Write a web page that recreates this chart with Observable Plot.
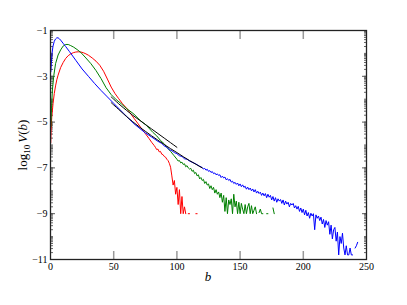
<!DOCTYPE html>
<html>
<head>
<meta charset="utf-8">
<script src="https://cdn.jsdelivr.net/npm/d3@7"></script>
<script src="https://cdn.jsdelivr.net/npm/@observablehq/plot@0.6"></script>
<style>
  html, body { margin: 0; padding: 0; background: white; }
  #chart svg { display: block; }
</style>
</head>
<body>
<div id="chart"></div>
<script>
// ---- data ----
const xTicks = [0, 50, 100, 150, 200, 250];
const xInnerTicks = [50, 100, 150, 200];
const yTicks = [-1, -3, -5, -7, -9, -11];

const redSmooth = [[0.2,-5.9],[0.5,-5.3],[1,-4.8],[2,-4.2],[3,-3.75],[4,-3.42],[5,-3.15],[6,-2.95],[8,-2.62],[10,-2.4],[12,-2.22],[14,-2.1],[16,-2.02],[18,-1.97],[20,-1.94],[22,-1.93],[24,-1.94],[26,-1.97],[28,-2.02],[30,-2.08],[33,-2.2],[36,-2.34],[39,-2.52],[42,-2.78],[45,-3.12],[48,-3.47],[51,-3.75],[54,-3.98],[57,-4.2],[60,-4.38],[63,-4.6],[66,-4.83],[69,-5.05],[72,-5.28],[75,-5.5],[78,-5.72],[80,-5.88],[82,-6.02],[83,-6.1],[84,-6.2],[85,-6.18],[86,-6.3],[87,-6.28],[88,-6.4],[89,-6.42],[90,-6.5],[91,-6.53],[92,-6.62],[93,-6.68],[94,-6.8]];
const redTailStart = 95;
const redTail = [-6.97,-7.35,-7.75,-7.55,-8.15,-7.85,-8.6,-7.95,-9.0,-8.25,-9.0,-8.7,-9.0,null,-9.0,-9.0,null,null,null,null,-9.0,-9.0];

const greenSmooth = [[0.3,-5.2],[0.8,-4.4],[1.5,-3.6],[2.6,-2.97],[4,-2.45],[6,-2.07],[8,-1.85],[10,-1.68],[12,-1.61],[14,-1.61],[16,-1.66],[18.4,-1.73],[21,-1.83],[24,-1.96],[28,-2.2],[32,-2.45],[36,-2.75],[40,-3.1],[44,-3.5],[48,-3.8],[52,-4.02],[56,-4.2],[60,-4.4],[66,-4.65],[71,-4.93],[76,-5.15],[81,-5.45],[84,-5.6],[87,-5.8],[90,-5.95],[92,-6.1],[95,-6.28],[97.5,-6.45]];
const greenTailStart = 100;
const greenTail = [-6.62,-6.7,-6.68,-6.78,-6.75,-6.85,-6.82,-6.95,-6.9,-7.0,-7.05,-7.02,-7.15,-7.1,-7.25,-7.2,-7.35,-7.3,-7.48,-7.42,-7.55,-7.5,-7.68,-7.6,-7.75,-7.7,-7.9,-7.78,-7.95,-7.85,-8.1,-7.95,-8.15,-8.05,-8.3,-8.1,-8.5,-8.2,-8.9,-8.3,-9.0,-8.4,-8.6,-8.35,-9.0,-8.15,-8.7,-8.45,-9.0,-8.5,-9.0,-8.55,-8.8,-9.0,-8.6,-9.0,-8.7,-8.55,-9.0,-8.65,-9.0,-8.85,-8.7,-9.0,null,-8.95,-8.8,-9.0,-9.0,null,null,-9.0,-9.0,null,null,null,-8.75,-9.0,null];

const blueSmooth = [[0.3,-2.8],[0.7,-2.4],[1.2,-2.0],[2,-1.68],[3,-1.47],[4,-1.37],[5,-1.32],[6,-1.32],[7,-1.36],[8,-1.42],[10,-1.56],[12,-1.7],[15,-1.92],[20,-2.3],[25,-2.68],[30,-3.0],[35,-3.32],[40,-3.62],[45,-3.9],[50,-4.18],[55,-4.46],[60,-4.74],[66,-5.07],[70,-5.25],[75,-5.47],[80,-5.65],[85,-5.84],[88,-5.93],[90,-6.04],[92,-6.1],[94,-6.2],[96,-6.25],[98,-6.33],[100,-6.38],[102,-6.47],[104,-6.5],[106,-6.6],[108,-6.62],[110,-6.7],[112,-6.75],[114,-6.8],[116,-6.86],[118,-6.93]];
const blueTailStart = 120;
const blueTail = [-6.98,-7.05,-7.02,-7.1,-7.06,-7.15,-7.12,-7.2,-7.16,-7.25,-7.22,-7.3,-7.26,-7.33,-7.3,-7.42,-7.36,-7.44,-7.4,-7.52,-7.47,-7.55,-7.5,-7.62,-7.58,-7.68,-7.63,-7.72,-7.66,-7.78,-7.7,-7.82,-7.74,-7.85,-7.8,-7.93,-7.84,-7.95,-7.88,-8.0,-7.92,-8.05,-7.95,-8.1,-8.02,-8.12,-8.06,-8.2,-8.1,-8.22,-8.12,-8.3,-8.15,-8.28,-8.2,-8.4,-8.25,-8.45,-8.3,-8.5,-8.35,-8.45,-8.38,-8.55,-8.4,-8.62,-8.45,-8.58,-8.5,-8.7,-8.55,-8.62,-8.55,-8.75,-8.65,-8.8,-8.68,-8.9,-8.75,-8.95,-8.8,-9.05,-8.85,-9.1,-8.95,-9.2,-8.98,-9.1,-9.0,-9.7,-9.05,-9.2,-9.1,-9.3,-9.15,-9.45,-9.25,-9.6,-9.3,-9.5,-9.35,-9.9,-9.5,-10.1,-9.7,-9.6,-10.2,-9.8,-10.8,-10.0,-10.3,-9.85,-10.5,-10.8,-10.4,-10.8,-10.8,-10.5,-10.8,-10.8,null,-10.5,-10.4,-10.25];

const fitA = [[48,-3.9],[50,-4.0],[55,-4.25],[60,-4.48],[65,-4.7],[70,-4.9],[75,-5.1],[80,-5.3],[85,-5.5],[90,-5.7],[95,-5.9],[100,-6.1]];
const fitB = [[48,-4.15],[50,-4.25],[55,-4.5],[60,-4.75],[65,-4.98],[70,-5.2],[75,-5.4],[80,-5.6],[85,-5.79],[90,-5.98],[95,-6.16],[100,-6.33],[105,-6.51],[110,-6.68],[115,-6.84],[120,-7.0]];

// ---- build series rows ----
function rows(smooth, start, tail, name) {
  const out = smooth.map(([b, v]) => ({b, v, s: name}));
  tail.forEach((v, i) => out.push({b: start + i, v, s: name}));
  return out;
}
const red = rows(redSmooth, redTailStart, redTail, "red");
const green = rows(greenSmooth, greenTailStart, greenTail, "green");
const blue = rows(blueSmooth, blueTailStart, blueTail, "blue");
const fa = fitA.map(([b, v]) => ({b, v}));
const fb = fitB.map(([b, v]) => ({b, v}));

// minor log-style ticks on the y axis
const yMinor = [];
for (let k = -11; k < -1; k++) for (let m = 1; m <= 9; m++) yMinor.push(k + Math.log10(m));
yMinor.push(-1);

const fmt = d3.format("d");
const serif = "'Liberation Serif', 'DejaVu Serif', serif";

const chart = Plot.plot({
  width: 407,
  height: 305,
  marginLeft: 50,
  marginRight: 41,
  marginTop: 30,
  marginBottom: 46,
  x: {domain: [0, 250]},
  y: {domain: [-11, -1]},
  style: {fontFamily: serif, fontSize: "10px", background: "white", color: "black"},
  marks: [
    Plot.axisX({ticks: xTicks, tickSize: 0, tickPadding: 3, tickFormat: fmt, label: null}),
    Plot.axisX({ticks: xInnerTicks, anchor: "bottom", tickSize: -8, tickFormat: () => "", label: null, stroke: "#999", strokeWidth: 1.5}),
    Plot.axisX({ticks: xInnerTicks, anchor: "top", tickSize: -8, tickFormat: () => "", label: null, stroke: "#999", strokeWidth: 1.5}),
    Plot.axisY({ticks: yTicks, anchor: "left", tickSize: 0, tickPadding: 3, tickFormat: fmt, label: null}),
    Plot.axisY({ticks: yMinor, anchor: "left", tickSize: -3, tickFormat: () => "", label: null, stroke: "#666"}),
    Plot.axisY({ticks: yMinor, anchor: "right", tickSize: -3, tickFormat: () => "", label: null, stroke: "#666"}),
    Plot.axisY({ticks: yTicks, anchor: "left", tickSize: -5, tickFormat: () => "", label: null, stroke: "#555"}),
    Plot.axisY({ticks: yTicks, anchor: "right", tickSize: -5, tickFormat: () => "", label: null, stroke: "#555"}),
    Plot.line(red, {x: "b", y: "v", stroke: "#ff0000", strokeWidth: 1}),
    Plot.line(green, {x: "b", y: "v", stroke: "#008000", strokeWidth: 1}),
    Plot.line(blue, {x: "b", y: "v", stroke: "#0000ff", strokeWidth: 1}),
    Plot.line(fa, {x: "b", y: "v", stroke: "black", strokeWidth: 1, curve: "natural"}),
    Plot.line(fb, {x: "b", y: "v", stroke: "black", strokeWidth: 1, curve: "natural"}),
    Plot.frame({stroke: "#222", strokeWidth: 1.3})
  ]
});

const svg = d3.select(chart);
svg.append("text")
  .attr("x", 208).attr("y", 281)
  .attr("text-anchor", "middle")
  .attr("font-family", serif).attr("font-size", 13)
  .attr("font-style", "italic")
  .text("b");
const yl = svg.append("text")
  .attr("transform", "translate(27,145) rotate(-90)")
  .attr("text-anchor", "middle")
  .attr("font-family", serif).attr("font-size", 13);
yl.append("tspan").text("log");
yl.append("tspan").attr("font-size", 9).attr("dy", 3).text("10");
yl.append("tspan").attr("dy", -3).attr("dx", 2).attr("font-style", "italic").text("V");
yl.append("tspan").text("(");
yl.append("tspan").attr("font-style", "italic").text("b");
yl.append("tspan").text(")");

document.getElementById("chart").appendChild(chart);
</script>
</body>
</html>
